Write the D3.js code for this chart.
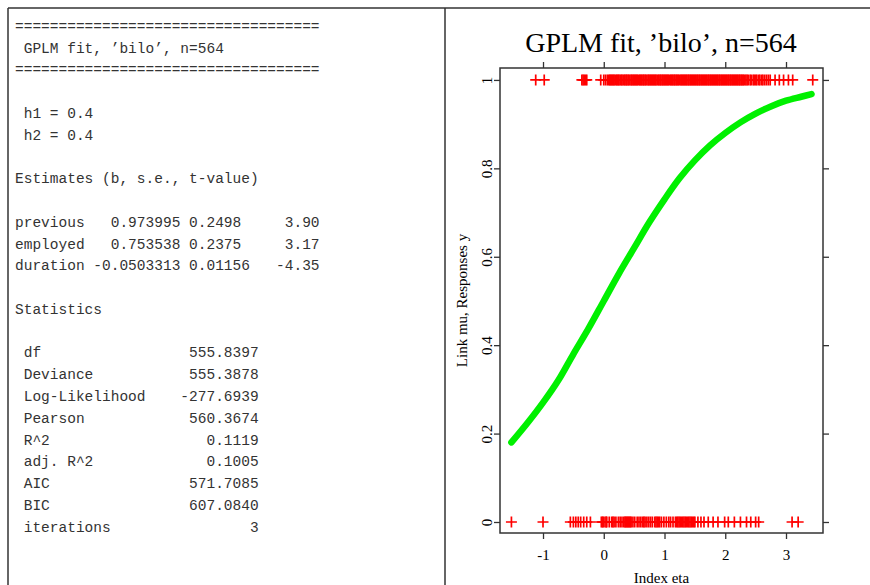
<!DOCTYPE html>
<html>
<head>
<meta charset="utf-8">
<script src="https://cdn.jsdelivr.net/npm/d3@7"></script>
<style>
  html, body { margin: 0; padding: 0; background: #fff; }
  svg { display: block; }
</style>
</head>
<body>
<svg id="chart" width="870" height="585"></svg>
<script>
// left panel: printed summary of the fit
const titleText = " GPLM fit, \u2019bilo\u2019, n=564";
const bandwidths = [["h1", "0.4"], ["h2", "0.4"]];
const estNames = ["previous", "employed", "duration"];
const estB = ["0.973995", "0.753538", "-0.0503313"];
const estSE = ["0.2498", "0.2375", "0.01156"];
const estT = ["3.90", "3.17", "-4.35"];
const statNames = ["df", "Deviance", "Log-Likelihood", "Pearson", "R^2", "adj. R^2", "AIC", "BIC", "iterations"];
const statValues = ["555.8397", "555.3878", "-277.6939", "560.3674", "0.1119", "0.1005", "571.7085", "607.0840", "3"];

// right panel: index eta of observed responses (y = 1 and y = 0)
const etaY1 = [-1.12, -0.98, -0.36, -0.34, -0.32, -0.30, -0.28, -0.05, 0.0, 0.03, 0.06, 0.08, 0.10, 0.11,
  0.13, 0.14, 0.16, 0.17, 0.19, 0.21, 0.22, 0.24, 0.25, 0.27, 0.29, 0.30, 0.32, 0.34, 0.35, 0.37, 0.38,
  0.40, 0.41, 0.43, 0.45, 0.46, 0.48, 0.49, 0.51, 0.52, 0.54, 0.55, 0.57, 0.59, 0.60, 0.62, 0.63, 0.65,
  0.66, 0.68, 0.69, 0.71, 0.73, 0.74, 0.76, 0.77, 0.79, 0.80, 0.82, 0.83, 0.85, 0.86, 0.88, 0.90, 0.91,
  0.93, 0.94, 0.96, 0.97, 0.99, 1.00, 1.02, 1.03, 1.05, 1.06, 1.08, 1.10, 1.11, 1.13, 1.14, 1.16, 1.17,
  1.19, 1.20, 1.22, 1.23, 1.25, 1.27, 1.28, 1.30, 1.31, 1.33, 1.34, 1.36, 1.37, 1.39, 1.40, 1.42, 1.43,
  1.45, 1.46, 1.48, 1.49, 1.51, 1.52, 1.54, 1.55, 1.57, 1.58, 1.60, 1.61, 1.63, 1.64, 1.66, 1.67, 1.69,
  1.70, 1.72, 1.73, 1.75, 1.76, 1.78, 1.79, 1.81, 1.82, 1.84, 1.85, 1.87, 1.88, 1.90, 1.91, 1.93, 1.94,
  1.96, 1.97, 1.99, 2.00, 2.02, 2.03, 2.05, 2.06, 2.08, 2.09, 2.11, 2.12, 2.14, 2.15, 2.17, 2.18, 2.20,
  2.21, 2.23, 2.24, 2.26, 2.27, 2.29, 2.30, 2.32, 2.34, 2.36, 2.38, 2.41, 2.43, 2.46, 2.48, 2.50, 2.52,
  2.55, 2.57, 2.60, 2.62, 2.65, 2.68, 2.71, 2.74, 2.82, 2.89, 2.96, 3.04, 3.11, 3.44];
const etaY0 = [-1.52, -1.0, -0.55, -0.50, -0.46, -0.42, -0.38, -0.33, -0.28, -0.22, -0.04, -0.02, -0.01,
  0.02, 0.04, 0.05, 0.09, 0.13, 0.15, 0.17, 0.20, 0.24, 0.27, 0.30, 0.33, 0.35, 0.36, 0.38, 0.39, 0.41,
  0.42, 0.44, 0.45, 0.48, 0.51, 0.55, 0.58, 0.61, 0.64, 0.66, 0.68, 0.71, 0.74, 0.77, 0.80, 0.84, 0.86,
  0.88, 0.90, 0.92, 0.95, 0.99, 1.03, 1.07, 1.10, 1.14, 1.18, 1.20, 1.22, 1.24, 1.26, 1.28, 1.30, 1.32,
  1.34, 1.36, 1.38, 1.40, 1.42, 1.44, 1.46, 1.48, 1.50, 1.55, 1.60, 1.65, 1.72, 1.80, 1.88, 1.99, 2.05,
  2.15, 2.25, 2.35, 2.42, 2.50, 2.55, 3.10, 3.20];

// fitted link mu along eta
const curveEta = [-1.52, -1.25, -1.0, -0.75, -0.5, -0.25, 0, 0.25, 0.5, 0.75, 1.0, 1.25, 1.5, 1.75,
  2.0, 2.25, 2.5, 2.75, 3.0, 3.25, 3.42];
const curveMu = [0.18, 0.225, 0.27, 0.32, 0.38, 0.438, 0.50, 0.562, 0.62, 0.678, 0.73, 0.778, 0.818,
  0.852, 0.88, 0.904, 0.924, 0.94, 0.953, 0.962, 0.968];

const xTicks = [-1, 0, 1, 2, 3];
const yTicks = [0, 0.2, 0.4, 0.6, 0.8, 1];

const svg = d3.select("#chart");
const frameColor = "#333";

// panel frame
svg.append("line").attr("x1", 8).attr("x2", 870).attr("y1", 8).attr("y2", 8)
  .attr("stroke", frameColor).attr("stroke-width", 1.5);
[8, 445].forEach((x) => {
  svg.append("line").attr("x1", x).attr("x2", x).attr("y1", 8).attr("y2", 585)
    .attr("stroke", frameColor).attr("stroke-width", 1.5);
});

// ---- left text panel
const rule = "=".repeat(35);
const lines = [rule, titleText, rule, ""];
bandwidths.forEach(([k, v]) => lines.push(` ${k} = ${v}`));
lines.push("", "Estimates (b, s.e., t-value)", "");
estNames.forEach((n, i) => {
  lines.push(n.padEnd(8) + estB[i].padStart(11) + " " + estSE[i].padEnd(7) + estT[i].padStart(8));
});
lines.push("", "Statistics", "");
statNames.forEach((n, i) => {
  lines.push(" " + n.padEnd(18) + statValues[i].padStart(9));
});

const textG = svg.append("g")
  .attr("font-family", "'Liberation Mono', 'DejaVu Sans Mono', monospace")
  .attr("font-size", 14.5)
  .attr("fill", "#333");
textG.selectAll("text")
  .data(lines)
  .join("text")
  .attr("x", 15)
  .attr("y", (d, i) => 30.9 + i * 21.77)
  .attr("xml:space", "preserve")
  .style("white-space", "pre")
  .text((d) => d);

// ---- right plot panel
const box = { left: 500, right: 823, top: 68, bottom: 533 };
const x = d3.scaleLinear().domain([-1.708, 3.609]).range([box.left, box.right]);
const y = d3.scaleLinear().domain([-0.0249, 1.027]).range([box.bottom, box.top]);

const plotG = svg.append("g");

plotG.append("text")
  .attr("x", 661).attr("y", 52)
  .attr("text-anchor", "middle")
  .attr("font-family", "'Liberation Serif', 'Times New Roman', serif")
  .attr("font-size", 28)
  .attr("fill", "#000")
  .text("GPLM fit, \u2019bilo\u2019, n=564");

// axes
const axisStyle = (g) => {
  g.select(".domain").remove();
  g.selectAll(".tick line").attr("stroke", frameColor).attr("stroke-width", 1.3);
  g.selectAll(".tick text")
    .attr("font-family", "'Liberation Serif', 'Times New Roman', serif")
    .attr("font-size", 15)
    .attr("fill", "#000");
};

plotG.append("g")
  .attr("transform", `translate(0,${box.bottom})`)
  .call(d3.axisBottom(x).tickValues(xTicks).tickSize(6).tickPadding(10).tickFormat((d) => String(d)))
  .call(axisStyle);

plotG.append("g")
  .attr("transform", `translate(0,${box.top})`)
  .call(d3.axisTop(x).tickValues(xTicks).tickSize(6).tickFormat(""))
  .call(axisStyle);

plotG.append("g")
  .attr("transform", `translate(${box.right},0)`)
  .call(d3.axisRight(y).tickValues(yTicks).tickSize(6).tickFormat(""))
  .call(axisStyle);

const yAxisG = plotG.append("g")
  .attr("transform", `translate(${box.left},0)`)
  .call(d3.axisLeft(y).tickValues(yTicks).tickSize(6).tickFormat((d) => (d === 0 || d === 1 ? String(d) : d.toFixed(1))))
  .call(axisStyle);
yAxisG.selectAll(".tick text")
  .attr("x", null).attr("dy", null)
  .attr("text-anchor", "middle")
  .attr("transform", "translate(-8,0) rotate(-90)");

plotG.append("rect")
  .attr("x", box.left).attr("y", box.top)
  .attr("width", box.right - box.left).attr("height", box.bottom - box.top)
  .attr("fill", "none").attr("stroke", frameColor).attr("stroke-width", 1.5);

plotG.append("text")
  .attr("x", (box.left + box.right) / 2).attr("y", 583)
  .attr("text-anchor", "middle")
  .attr("font-family", "'Liberation Serif', 'Times New Roman', serif")
  .attr("font-size", 15)
  .text("Index eta");

plotG.append("text")
  .attr("transform", `translate(467,${(box.top + box.bottom) / 2}) rotate(-90)`)
  .attr("text-anchor", "middle")
  .attr("font-family", "'Liberation Serif', 'Times New Roman', serif")
  .attr("font-size", 15)
  .text("Link mu, Responses y");

// observed responses as plus signs
const points = etaY1.map((e) => ({ eta: e, resp: 1 }))
  .concat(etaY0.map((e) => ({ eta: e, resp: 0 })));
const plusSize = 5.5;
plotG.append("g")
  .selectAll("path")
  .data(points)
  .join("path")
  .attr("d", (d) => {
    const px = x(d.eta), py = y(d.resp);
    return `M${px - plusSize},${py}H${px + plusSize}M${px},${py - plusSize}V${py + plusSize}`;
  })
  .attr("stroke", "#ff0000")
  .attr("stroke-width", 1.7)
  .attr("fill", "none");

// fitted curve
const fit = curveEta.map((e, i) => ({ eta: e, mu: curveMu[i] }));
plotG.append("path")
  .datum(fit)
  .attr("d", d3.line().x((d) => x(d.eta)).y((d) => y(d.mu)).curve(d3.curveCatmullRom.alpha(0.5)))
  .attr("fill", "none")
  .attr("stroke", "#00f000")
  .attr("stroke-width", 6.5)
  .attr("stroke-linecap", "round")
  .attr("stroke-linejoin", "round");
</script>
</body>
</html>
